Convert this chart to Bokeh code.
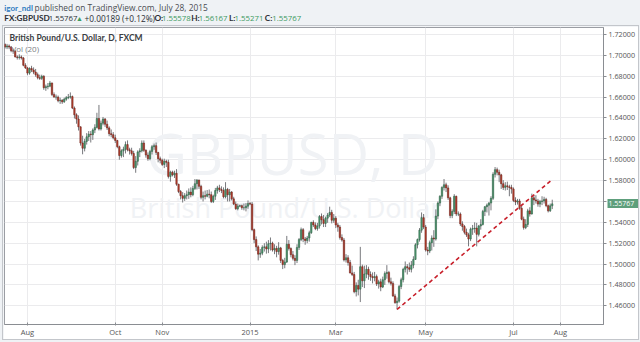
from bokeh.plotting import figure
from bokeh.layouts import column
from bokeh.models import Range1d, FixedTicker, Label, NumeralTickFormatter, ColumnDataSource, LinearAxis
from bokeh.embed import file_html
from bokeh.resources import INLINE
import pandas as pd

# ---------------- data (GBPUSD daily, FXCM) ----------------
start_date = "2014-07-17"
first_open = 1.7105
close = [
    # Jul 2014
    1.7080, 1.7090, 1.7080, 1.7045, 1.7040, 1.6985, 1.6980, 1.6985, 1.6975, 1.6905, 1.6880,
    # Aug 2014
    1.6830, 1.6875, 1.6860, 1.6840, 1.6815, 1.6785, 1.6780, 1.6800, 1.6690, 1.6700, 1.6705,
    1.6735, 1.6625, 1.6600, 1.6600, 1.6565, 1.6570, 1.6555, 1.6580, 1.6595, 1.6600,
    # Sep 2014
    1.6605, 1.6495, 1.6430, 1.6390, 1.6315, 1.6160, 1.6110, 1.6175, 1.6220, 1.6245, 1.6240,
    1.6285, 1.6310, 1.6395, 1.6295, 1.6350, 1.6390, 1.6340, 1.6305, 1.6250, 1.6240, 1.6210,
    # Oct 2014
    1.6185, 1.6125, 1.6040, 1.6085, 1.6100, 1.6145, 1.6095, 1.6085, 1.6060, 1.5925, 1.5985, 1.6075,
    1.6085, 1.6160, 1.6090, 1.6045, 1.6010, 1.6080, 1.6125, 1.6135, 1.6070, 1.6010, 1.5995,
    # Nov 2014
    1.5955, 1.5985, 1.5975, 1.5840, 1.5880, 1.5855, 1.5870, 1.5765, 1.5695, 1.5655,
    1.5630, 1.5655, 1.5665, 1.5690, 1.5665, 1.5725, 1.5770, 1.5805, 1.5745, 1.5640,
    # Dec 2014
    1.5655, 1.5650, 1.5670, 1.5665, 1.5600, 1.5650, 1.5705, 1.5730, 1.5715, 1.5705, 1.5645, 1.5715,
    1.5665, 1.5690, 1.5625, 1.5575, 1.5530, 1.5555, 1.5560, 1.5540, 1.5540, 1.5555, 1.5580,
    # Jan 2015
    1.5575, 1.5330, 1.5235, 1.5165, 1.5095, 1.5105, 1.5160, 1.5165, 1.5145, 1.5195, 1.5200,
    1.5135, 1.5150, 1.5120, 1.5155, 1.5035, 1.4995, 1.5020, 1.5190, 1.5150, 1.5090, 1.5055,
    # Feb 2015
    1.5035, 1.5160, 1.5235, 1.5330, 1.5240, 1.5225, 1.5250, 1.5300, 1.5400, 1.5375,
    1.5340, 1.5365, 1.5455, 1.5425, 1.5390, 1.5440, 1.5470, 1.5495, 1.5420, 1.5440,
    # Mar 2015
    1.5375, 1.5355, 1.5255, 1.5230, 1.5040, 1.5060, 1.5015, 1.4915, 1.4900, 1.4735, 1.4795,
    1.4760, 1.4975, 1.4840, 1.4905, 1.4950, 1.4900, 1.4880, 1.4870, 1.4880, 1.4810, 1.4830,
    # Apr 2015
    1.4780, 1.4850, 1.4910, 1.4920, 1.4830, 1.4815, 1.4695, 1.4630, 1.4645, 1.4785, 1.4850,
    1.4950, 1.4975, 1.4965, 1.4950, 1.4990, 1.5045, 1.5185, 1.5235, 1.5325, 1.5445, 1.5355,
    # May 2015
    1.5135, 1.5125, 1.5205, 1.5250, 1.5240, 1.5460, 1.5585, 1.5650, 1.5735, 1.5760, 1.5730,
    1.5635, 1.5465, 1.5505, 1.5650, 1.5480, 1.5480, 1.5385, 1.5360, 1.5305, 1.5280,
    # Jun 2015
    1.5240, 1.5335, 1.5340, 1.5345, 1.5285, 1.5365, 1.5380, 1.5505, 1.5550, 1.5565, 1.5585,
    1.5630, 1.5860, 1.5905, 1.5880, 1.5855, 1.5770, 1.5735, 1.5750, 1.5740, 1.5735, 1.5720,
    # Jul 2015
    1.5610, 1.5595, 1.5605, 1.5535, 1.5430, 1.5350, 1.5380, 1.5510, 1.5480, 1.5635,
    1.5615, 1.5605, 1.5575, 1.5600, 1.5605, 1.5620, 1.5560, 1.5510, 1.5558, 1.5577,
]
high = [
    1.7115, 1.7110, 1.7105, 1.7090, 1.7065, 1.7050, 1.7000, 1.7010, 1.7000, 1.6985, 1.6925,
    1.6890, 1.6885, 1.6900, 1.6885, 1.6870, 1.6835, 1.6815, 1.6815, 1.6810, 1.6720, 1.6735,
    1.6755, 1.6740, 1.6645, 1.6625, 1.6615, 1.6595, 1.6580, 1.6595, 1.6610, 1.6630,
    1.6645, 1.6615, 1.6510, 1.6445, 1.6425, 1.6320, 1.6230, 1.6200, 1.6255, 1.6275, 1.6275,
    1.6300, 1.6340, 1.6450, 1.6525, 1.6375, 1.6410, 1.6400, 1.6375, 1.6320, 1.6290, 1.6265,
    1.6240, 1.6190, 1.6135, 1.6100, 1.6125, 1.6175, 1.6185, 1.6115, 1.6115, 1.6085, 1.6035, 1.6090,
    1.6110, 1.6185, 1.6185, 1.6100, 1.6070, 1.6095, 1.6140, 1.6155, 1.6165, 1.6075, 1.6030,
    1.6010, 1.6010, 1.6000, 1.6000, 1.5895, 1.5895, 1.5895, 1.5910, 1.5770, 1.5710,
    1.5690, 1.5680, 1.5705, 1.5725, 1.5735, 1.5750, 1.5815, 1.5815, 1.5810, 1.5760,
    1.5695, 1.5705, 1.5710, 1.5715, 1.5695, 1.5665, 1.5730, 1.5750, 1.5760, 1.5745, 1.5735, 1.5785,
    1.5730, 1.5720, 1.5700, 1.5645, 1.5600, 1.5580, 1.5570, 1.5570, 1.5580, 1.5585, 1.5610,
    1.5595, 1.5595, 1.5340, 1.5265, 1.5180, 1.5145, 1.5180, 1.5200, 1.5215, 1.5230, 1.5255,
    1.5215, 1.5190, 1.5175, 1.5210, 1.5165, 1.5050, 1.5060, 1.5270, 1.5230, 1.5160, 1.5125,
    1.5085, 1.5190, 1.5250, 1.5350, 1.5345, 1.5260, 1.5270, 1.5320, 1.5405, 1.5420,
    1.5400, 1.5395, 1.5470, 1.5485, 1.5470, 1.5455, 1.5490, 1.5550, 1.5520, 1.5480,
    1.5460, 1.5395, 1.5375, 1.5285, 1.5250, 1.5095, 1.5085, 1.5040, 1.4985, 1.4925, 1.4825,
    1.4850, 1.5165, 1.4995, 1.4985, 1.4990, 1.4975, 1.4930, 1.4920, 1.4925, 1.4900, 1.4850,
    1.4860, 1.4880, 1.4930, 1.4990, 1.4935, 1.4870, 1.4835, 1.4715, 1.4680, 1.4800, 1.4870,
    1.4965, 1.5025, 1.5000, 1.5015, 1.5030, 1.5075, 1.5200, 1.5245, 1.5345, 1.5495, 1.5480,
    1.5375, 1.5165, 1.5225, 1.5275, 1.5325, 1.5525, 1.5600, 1.5660, 1.5745, 1.5815, 1.5780,
    1.5755, 1.5645, 1.5525, 1.5670, 1.5655, 1.5505, 1.5495, 1.5410, 1.5375, 1.5340,
    1.5300, 1.5350, 1.5375, 1.5400, 1.5395, 1.5375, 1.5430, 1.5520, 1.5555, 1.5580, 1.5595,
    1.5650, 1.5880, 1.5930, 1.5925, 1.5905, 1.5865, 1.5805, 1.5785, 1.5790, 1.5760, 1.5760,
    1.5735, 1.5640, 1.5625, 1.5625, 1.5570, 1.5455, 1.5430, 1.5530, 1.5545, 1.5675,
    1.5660, 1.5660, 1.5625, 1.5615, 1.5650, 1.5645, 1.5635, 1.5570, 1.5580, 1.5617,
]
low = [
    1.7065, 1.7060, 1.7060, 1.7030, 1.7015, 1.6980, 1.6960, 1.6960, 1.6960, 1.6895, 1.6870,
    1.6810, 1.6815, 1.6840, 1.6820, 1.6795, 1.6770, 1.6765, 1.6765, 1.6670, 1.6660, 1.6675,
    1.6695, 1.6610, 1.6595, 1.6575, 1.6550, 1.6535, 1.6535, 1.6545, 1.6565, 1.6580,
    1.6585, 1.6485, 1.6395, 1.6345, 1.6280, 1.6135, 1.6052, 1.6080, 1.6145, 1.6180, 1.6165,
    1.6190, 1.6255, 1.6300, 1.6280, 1.6280, 1.6330, 1.6315, 1.6285, 1.6225, 1.6215, 1.6195,
    1.6160, 1.6110, 1.6000, 1.6020, 1.6025, 1.6060, 1.6080, 1.6050, 1.6040, 1.5910, 1.5875, 1.5945,
    1.6025, 1.6070, 1.6075, 1.6020, 1.5990, 1.5995, 1.6050, 1.6095, 1.6045, 1.5975, 1.5965,
    1.5940, 1.5920, 1.5930, 1.5820, 1.5790, 1.5840, 1.5825, 1.5750, 1.5680, 1.5620,
    1.5590, 1.5605, 1.5620, 1.5625, 1.5640, 1.5650, 1.5710, 1.5715, 1.5720, 1.5620,
    1.5600, 1.5620, 1.5640, 1.5630, 1.5585, 1.5585, 1.5615, 1.5675, 1.5690, 1.5680, 1.5630, 1.5630,
    1.5600, 1.5600, 1.5610, 1.5565, 1.5520, 1.5515, 1.5545, 1.5520, 1.5515, 1.5505, 1.5530,
    1.5565, 1.5315, 1.5200, 1.5125, 1.5035, 1.5060, 1.5085, 1.5120, 1.5100, 1.5105, 1.5130,
    1.5120, 1.5095, 1.5065, 1.5090, 1.5010, 1.4952, 1.4960, 1.5010, 1.5130, 1.5065, 1.5035,
    1.4990, 1.5010, 1.5135, 1.5220, 1.5210, 1.5185, 1.5200, 1.5215, 1.5290, 1.5355,
    1.5325, 1.5320, 1.5340, 1.5380, 1.5355, 1.5355, 1.5395, 1.5450, 1.5390, 1.5395,
    1.5345, 1.5310, 1.5235, 1.5215, 1.5025, 1.5015, 1.4985, 1.4910, 1.4885, 1.4720, 1.4690,
    1.4700, 1.4636, 1.4780, 1.4770, 1.4865, 1.4850, 1.4840, 1.4815, 1.4835, 1.4790, 1.4765,
    1.4740, 1.4770, 1.4800, 1.4860, 1.4815, 1.4795, 1.4685, 1.4620, 1.4565, 1.4630, 1.4760,
    1.4825, 1.4920, 1.4900, 1.4925, 1.4920, 1.4960, 1.5040, 1.5150, 1.5215, 1.5300, 1.5335,
    1.5120, 1.5085, 1.5105, 1.5130, 1.5165, 1.5225, 1.5430, 1.5555, 1.5625, 1.5705, 1.5690,
    1.5615, 1.5440, 1.5440, 1.5480, 1.5460, 1.5460, 1.5365, 1.5320, 1.5285, 1.5260,
    1.5170, 1.5220, 1.5280, 1.5300, 1.5170, 1.5265, 1.5330, 1.5370, 1.5460, 1.5495, 1.5465,
    1.5515, 1.5615, 1.5830, 1.5850, 1.5785, 1.5720, 1.5710, 1.5705, 1.5710, 1.5650, 1.5675,
    1.5595, 1.5565, 1.5570, 1.5520, 1.5420, 1.5330, 1.5335, 1.5355, 1.5455, 1.5475,
    1.5565, 1.5580, 1.5550, 1.5545, 1.5565, 1.5580, 1.5545, 1.5495, 1.5500, 1.5527,
]
tick_months = ["2014-08-01", "2014-10-01", "2014-11-01", "2015-01-01",
               "2015-03-01", "2015-05-01", "2015-07-01", "2015-08-01"]
tick_labels = ["Aug", "Oct", "Nov", "2015", "Mar", "May", "Jul", "Aug"]
price_ticks = [1.46, 1.48, 1.50, 1.52, 1.54, 1.56, 1.58, 1.60, 1.62, 1.64, 1.66, 1.68, 1.70, 1.72]
trend_dates = ["2015-04-13", "2015-07-28"]
trend_prices = [1.4565, 1.5810]
last_price = 1.55767

# ---------------- derived ----------------
n = len(close)
assert len(high) == n and len(low) == n
open_ = [first_open] + close[:-1]
days = pd.bdate_range(start_date, periods=n + 60)
pos = {d: i for i, d in enumerate(days)}
def day_index(s):
    d = pd.Timestamp(s)
    while d not in pos:
        d += pd.Timedelta(days=1)
    return pos[d]
assert days[n - 1] == pd.Timestamp("2015-07-28")
xs = list(range(n))
up = [c >= o for o, c in zip(open_, close)]
src = ColumnDataSource(dict(
    x=xs, o=open_, h=high, l=low, c=close,
    top=[max(o, c) for o, c in zip(open_, close)],
    bot=[min(o, c) for o, c in zip(open_, close)],
    fill=["#4f9a72" if u else "#b8402f" for u in up],
    edge=["#2a5e40" if u else "#6b1f17" for u in up],
))
tick_pos = [day_index(m) for m in tick_months]

GREY = "#eff2f5"
FONT = "Open Sans"
BOLD_FONT = "Lato"

# ---------------- header strip ----------------
hdr = figure(width=640, height=26, x_range=Range1d(0, 640), y_range=Range1d(26, 0),
             x_axis_type=None, y_axis_type=None, min_border=0,
             output_backend="svg", toolbar_location=None)
hdr.background_fill_color = GREY
hdr.border_fill_color = GREY
hdr.outline_line_color = None
hdr.xgrid.visible = False
hdr.ygrid.visible = False

def hlab(text, x, y, size, color, style="normal", font=FONT):
    hdr.add_layout(Label(x=x, y=y, text=text, text_font=font, text_font_size=f"{size}px",
                         text_color=color, text_font_style=style, text_baseline="middle"))

GREEN_TXT = "#3c9a5f"
DARK = "#2c2f34"
hlab("igor_ndl", 3, 7, 8, "#2f7cc1", "bold", BOLD_FONT)
hlab("published on TradingView.com, July 28, 2015", 35, 7, 8.4, "#4a4d52")
hlab("FX:GBPUSD", 3, 17.5, 8.2, DARK, "bold", BOLD_FONT)
hlab("1.55767", 50, 17.5, 7.8, DARK)
hlab("\u25b2", 79, 17.5, 7, GREEN_TXT)
hlab("+0.00189 (+0.12%)", 88, 17.5, 8.3, DARK)
for key, val, kx, vx in [("O:", "1.55578", 162, 170), ("H:", "1.56167", 201, 209),
                         ("L:", "1.55271", 241, 247), ("C:", "1.55767", 279, 287)]:
    hlab(key, kx, 17.5, 8.3, DARK, "bold", BOLD_FONT)
    hlab(val, vx, 17.5, 7.8, GREEN_TXT)

# ---------------- main chart ----------------
FL, FB = 4, 324          # frame left / bottom in page px
p = figure(frame_width=599, frame_height=297, output_backend="svg", toolbar_location=None,
           x_range=Range1d(-0.25, 293.1), y_range=Range1d(1.44211, 1.72671),
           y_axis_location="right",
           min_border_left=1, min_border_right=31, min_border_top=1, min_border_bottom=14)
p.margin = (0, 0, 4, 3)
p.styles = {"outline": "1px solid #c3c6cb"}
p.border_fill_color = "white"
p.background_fill_color = "white"
p.outline_line_color = "#9a9da3"

for ax in (p.xaxis[0], p.yaxis[0]):
    ax.axis_line_color = "#8a8d92"
    ax.major_tick_line_color = "#8a8d92"
    ax.minor_tick_line_color = None
    ax.major_label_text_color = "#555555"
    ax.major_label_text_font = FONT
p.xaxis.major_label_text_font_size = "7.5px"
p.yaxis.major_label_text_font_size = "7.2px"
p.xaxis.major_tick_out = 1
p.xaxis.major_tick_in = 2
p.xaxis.major_label_standoff = 1
p.yaxis.major_tick_out = 3
p.yaxis.major_tick_in = 0
p.yaxis.major_label_standoff = 2
p.xaxis.ticker = FixedTicker(ticks=tick_pos)
p.xaxis.major_label_overrides = {tp: lb for tp, lb in zip(tick_pos, tick_labels)}
p.yaxis.ticker = FixedTicker(ticks=price_ticks)
p.yaxis.formatter = NumeralTickFormatter(format="0.00000")
p.xgrid.ticker = FixedTicker(ticks=tick_pos)
p.ygrid.ticker = FixedTicker(ticks=price_ticks)
p.xgrid.grid_line_color = "#ebebed"
p.ygrid.grid_line_color = "#ebebed"

# last-price marker: a second right axis with a single thick tick drawn back over the price scale
marker_axis = LinearAxis(ticker=FixedTicker(ticks=[last_price]),
                         formatter=NumeralTickFormatter(format="0.00000"),
                         axis_line_color=None, minor_tick_line_color=None,
                         major_tick_in=31, major_tick_out=0,
                         major_tick_line_color="#5e9f7c", major_tick_line_width=9,
                         major_tick_line_cap="butt",
                         major_label_standoff=-30, major_label_text_color="white",
                         major_label_text_font=FONT, major_label_text_font_size="7px")
p.add_layout(marker_axis, "right")

def lab(text, cx, cy, size, color, style="normal", align="left", level="annotation", font=FONT):
    p.add_layout(Label(x=cx - FL, y=FB - cy, x_units="screen", y_units="screen", text=text,
                       text_font=font, text_font_size=f"{size}px", text_color=color,
                       text_font_style=style, text_align=align, text_baseline="middle",
                       level=level))

# watermark
lab("GBPUSD, D", 292, 152, 56, "#f0f2f5", align="center", level="underlay")
lab("British Pound/U.S. Dollar", 285, 207, 27, "#f0f2f5", align="center", level="underlay")

# candles
p.segment(x0="x", y0="h", x1="x", y1="l", source=src, line_color="#77787c", line_width=1)
p.vbar(x="x", width=0.7, top="top", bottom="bot", source=src,
       fill_color="fill", line_color="edge", line_width=0.5)

# trend line
p.line([day_index(d) for d in trend_dates], trend_prices, line_color="#c8202b",
       line_width=1.6, line_dash="4 3")

# pane titles
lab("British Pound/U.S. Dollar, D, FXCM", 9, 37, 8.5, "#3a3d42", style="bold", font=BOLD_FONT)
lab("Vol (20)", 11, 48, 8, "#7a7d82")

layout = column(hdr, p, spacing=0, styles={"background-color": GREY})
open("out.html", "w").write(file_html(layout, INLINE))
